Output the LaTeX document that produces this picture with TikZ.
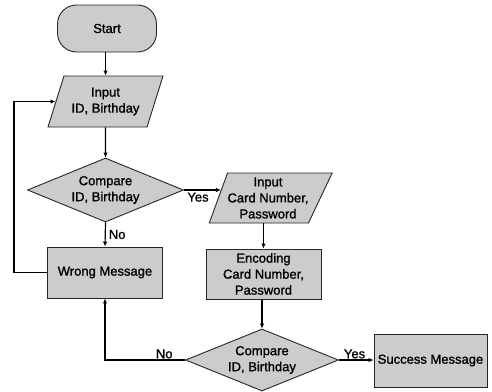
\documentclass[tikz,border=0pt]{standalone}
\usepackage{fontspec}
\setmainfont{Liberation Sans}
\newfontfamily\chartfont[FakeBold=1.2]{Liberation Sans}
\usetikzlibrary{shapes.geometric,arrows.meta}
\begin{document}
\begin{tikzpicture}[x=1pt,y=1pt]
                \tikzstyle{every node}+=[inner sep=0pt, align=center, font=\chartfont\fontsize{13}{16}\selectfont]
                \tikzstyle{block}=[draw=black!85, fill=gray!40, line width=0.9pt]
                \tikzstyle{io}=[block, trapezium, trapezium stretches body, trapezium right angle=120]
                \tikzstyle{decide}=[block, diamond, aspect=2.4]
                \tikzstyle{conn}=[line width=1.2pt, -{Latex[length=5pt,width=4.5pt]}]
                \useasboundingbox (0,0) rectangle (492,-391);
                \node [block, rounded corners=19pt, minimum width=99, minimum height=47] (start) at (107,-28.5) {Start};
                \node [io, trapezium left angle=60, minimum width=115, minimum height=51] (in1) at (105.5,-101.5) {Input\\ID, Birthday};
                \node [decide, minimum width=156, minimum height=64] (dia1) at (105.5,-190) {Compare\\ID, Birthday};
                \node [block, minimum width=115, minimum height=51] (wrong) at (105,-272.5) {Wrong Message};
                \node [io, trapezium left angle=66, minimum width=114, minimum height=50] (in2) at (268,-198) {Input\\Card Number,\\Password};
                \node [block, minimum width=115, minimum height=50] (enc) at (263.5,-274) {Encoding\\Card Number,\\Password};
                \node [decide, minimum width=153, minimum height=62] (dia2) at (262,-360) {Compare\\ID, Birthday};
                \node [block, minimum width=113, minimum height=53] (succ) at (430.5,-360.5) {Success Message};
                \draw [conn] (start.south -| in1.north) -- (in1.north);
                \draw [conn] (in1.south) -- (dia1.north);
                \draw [conn] (dia1.south) -- node [right=3pt] {No} (wrong.north);
                \draw [conn] (dia1.east) -- node [below=2pt, pos=0.38] {Yes} (dia1.east -| in2.170);
                \draw [conn] (in2.south -| enc.north) -- (enc.north);
                \draw [conn] (enc.south -| dia2.north) -- (dia2.north);
                \draw [conn] (dia2.east) -- node [above=1pt, pos=0.45] {Yes} (dia2.east -| succ.west);
                \draw [conn] (dia2.west) -- node [above=1pt, pos=0.26] {No} (dia2.west -| wrong.south) -- (wrong.south);
                \draw [conn] (wrong.west) -- ++(-33,0) |- (in1.west);
                \end{tikzpicture}
\end{document}
